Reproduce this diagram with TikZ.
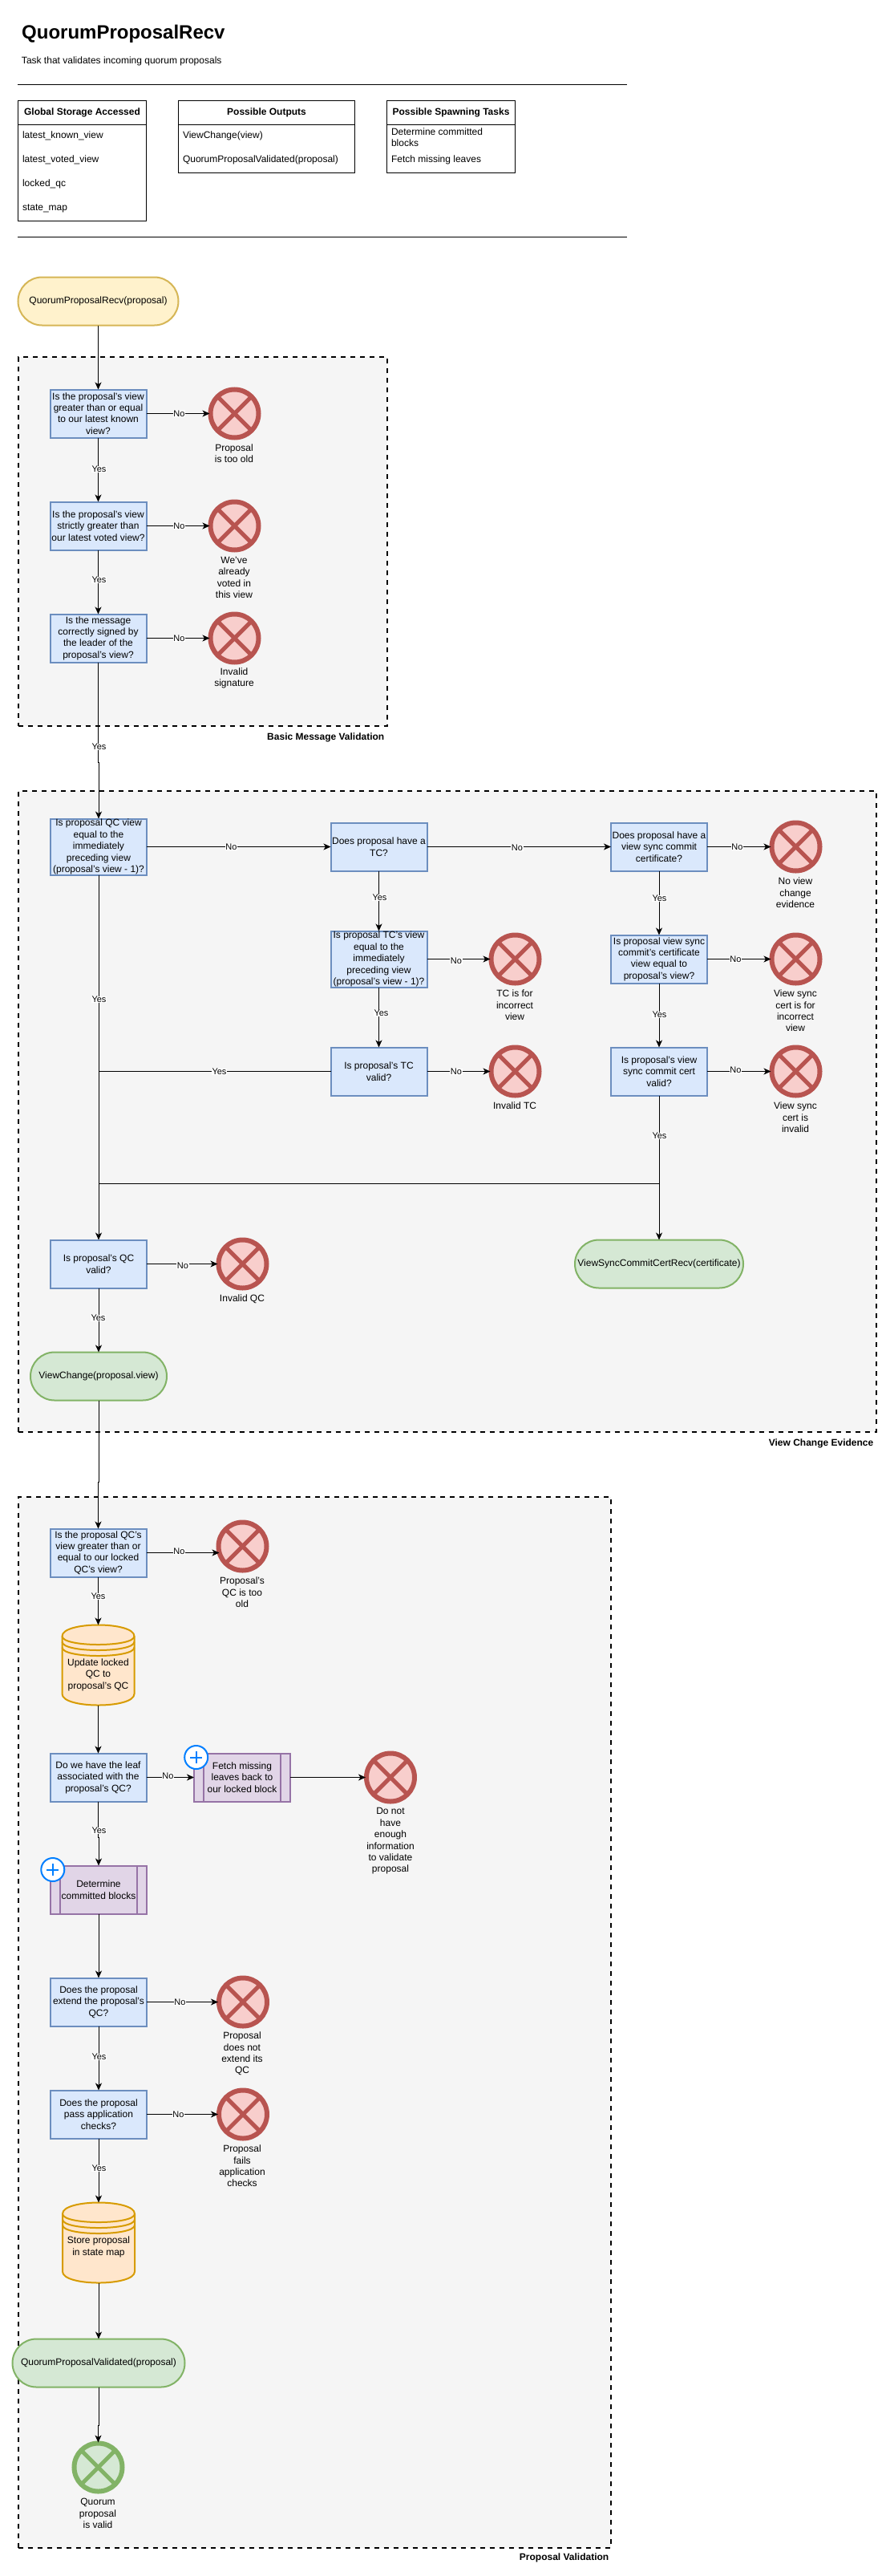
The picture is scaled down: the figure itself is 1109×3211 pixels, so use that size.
\documentclass[tikz,border=0pt]{standalone}
\usepackage{fontspec}
\setmainfont{Liberation Sans}
\usetikzlibrary{arrows.meta,calc}
\definecolor{blueF}{HTML}{DAE8FC}\definecolor{blueD}{HTML}{6C8EBF}
\definecolor{redF}{HTML}{F8CECC}\definecolor{redD}{HTML}{B85450}
\definecolor{yelF}{HTML}{FFF2CC}\definecolor{yelD}{HTML}{D6B656}
\definecolor{grnF}{HTML}{D5E8D4}\definecolor{grnD}{HTML}{82B366}
\definecolor{orgF}{HTML}{FFE6CC}\definecolor{orgD}{HTML}{D79B00}
\definecolor{purF}{HTML}{E1D5E7}\definecolor{purD}{HTML}{9673A6}
\definecolor{grpF}{HTML}{F5F5F5}\definecolor{plusD}{HTML}{007FFF}
\tikzset{
  txt/.style={font=\fontsize{12}{14.4}\selectfont,align=center,inner sep=0pt,outer sep=0pt},
  txtl/.style={font=\fontsize{12}{14.4}\selectfont,align=left,anchor=west,inner sep=0pt,outer sep=0pt,text height=8.6pt,text depth=2.6pt},
  grouplbl/.style={font=\fontsize{12}{14.4}\selectfont\bfseries,anchor=east,inner sep=0pt},
  groupbox/.style={draw=black,fill=grpF,line width=2pt,dash pattern=on 6pt off 6pt,anchor=north west,inner sep=0pt,outer sep=0pt},
  qbox/.style={txt,draw=blueD,fill=blueF,line width=2pt,minimum width=120pt,minimum height=60pt,outer sep=0pt},
  qboxt/.style={qbox,minimum height=70pt},
  tablehead/.style={draw=black,line width=1pt,anchor=north west,minimum height=30pt,font=\fontsize{12}{14.4}\selectfont\bfseries,inner sep=0pt,outer sep=0pt},
  tablebody/.style={draw=black,line width=1pt,anchor=north west,inner sep=0pt,outer sep=0pt},
  term/.style={txt,rounded corners=30pt,line width=2pt,minimum height=60pt},
  termY/.style={term,draw=yelD,fill=yelF},
  termG/.style={term,draw=grnD,fill=grnF},
  xcirc/.style={circle,line width=6pt,minimum size=60pt,inner sep=0pt,outer sep=1pt,
    path picture={\draw[line width=5pt,draw=#1]
      ([shift={(-40pt,-40pt)}]path picture bounding box.center) -- ([shift={(40pt,40pt)}]path picture bounding box.center)
      ([shift={(-40pt,40pt)}]path picture bounding box.center) -- ([shift={(40pt,-40pt)}]path picture bounding box.center);}},
  endR/.style={xcirc=redD,draw=redD,fill=redF},
  endG/.style={xcirc=grnD,draw=grnD,fill=grnF},
  proc/.style={txt,draw=purD,fill=purF,line width=2pt,minimum width=120pt,minimum height=60pt,
    path picture={\draw[line width=2pt,draw=purD]
      ([xshift=12pt]path picture bounding box.north west) -- ([xshift=12pt]path picture bounding box.south west)
      ([xshift=-12pt]path picture bounding box.north east) -- ([xshift=-12pt]path picture bounding box.south east);}},
  badge/.style={circle,draw=plusD,fill=white,line width=2pt,minimum size=29pt,inner sep=0pt,
    path picture={\draw[line width=2pt,draw=plusD]
      ([xshift=-7.5pt]path picture bounding box.center) -- ([xshift=7.5pt]path picture bounding box.center)
      ([yshift=-7.5pt]path picture bounding box.center) -- ([yshift=7.5pt]path picture bounding box.center);}},
  dsanchor/.style={rectangle,minimum width=90pt,minimum height=100pt,inner sep=0pt,outer sep=0pt},
  edgelbl/.style={font=\fontsize{11}{13}\selectfont,fill=white,inner sep=0.6pt},
  flow/.style={draw=black,line width=1pt,-{Stealth[length=9pt,width=8pt,inset=2.5pt]}},
  plainline/.style={draw=black,line width=1pt},
}
\newcommand{\dstore}[3]{%
  \begin{scope}[shift={(#1-45,#2-50)}]
    \path[fill=orgF,draw=orgD,line width=2pt] (0,14) .. controls (0,-4.67) and (90,-4.67) .. (90,14)
      -- (90,86) .. controls (90,104.67) and (0,104.67) .. (0,86) -- cycle;
    \draw[orgD,line width=2pt] (0,14) .. controls (0,28) and (90,28) .. (90,14)
      (0,21) .. controls (0,35) and (90,35) .. (90,21)
      (0,28) .. controls (0,42) and (90,42) .. (90,28);
  \end{scope}
  \node[dsanchor] (#3) at (#1,#2) {};
}
\begin{document}
\begin{tikzpicture}[x=1pt,y=-1pt]
\useasboundingbox[fill=white] (0,0) rectangle (1109,3211);

% header
\node[anchor=west,inner sep=0pt,font=\fontsize{24}{28}\selectfont\bfseries] (title) at (27,42) {QuorumProposalRecv};
\node[txtl] (subtitle) at (27,77) {Task that validates incoming quorum proposals};
\coordinate (r1a) at (22,105.5); \coordinate (r1b) at (782,105.5);
\coordinate (r2a) at (22,295.5); \coordinate (r2b) at (782,295.5);
\draw[plainline] (r1a) -- (r1b);
\draw[plainline] (r2a) -- (r2b);

% tables
\node[tablebody,minimum width=160pt,minimum height=150pt] (t1b) at (22.5,125.5) {};
\node[tablehead,minimum width=160pt] (t1h) at (22.5,125.5) {Global Storage Accessed};
\node[txtl] (t1r1) at (28,170) {latest\_known\_view};
\node[txtl] (t1r2) at (28,200) {latest\_voted\_view};
\node[txtl] (t1r3) at (28,230) {locked\_qc};
\node[txtl] (t1r4) at (28,260) {state\_map};
\node[tablebody,minimum width=220pt,minimum height=90pt] (t2b) at (222.5,125.5) {};
\node[tablehead,minimum width=220pt] (t2h) at (222.5,125.5) {Possible Outputs};
\node[txtl] (t2r1) at (228,170) {ViewChange(view)};
\node[txtl] (t2r2) at (228,200) {QuorumProposalValidated(proposal)};
\node[tablebody,minimum width=160pt,minimum height=90pt] (t3b) at (482.5,125.5) {};
\node[tablehead,minimum width=160pt] (t3h) at (482.5,125.5) {Possible Spawning Tasks};
\node[txtl,text height=,text depth=] (t3r1) at (488,171.5) {Determine committed\\blocks};
\node[txtl] (t3r2) at (488,200) {Fetch missing leaves};

% groups
\node[groupbox,minimum width=460pt,minimum height=460pt] (g1) at (22.5,445) {};
\node[grouplbl] (g1l) at (479.5,919) {Basic Message Validation};
\node[groupbox,minimum width=1070pt,minimum height=799pt] (g2) at (22.5,985.5) {};
\node[grouplbl] (g2l) at (1089.5,1799) {View Change Evidence};
\node[groupbox,minimum width=739pt,minimum height=1310pt] (g3) at (22.5,1865.5) {};
\node[grouplbl] (g3l) at (759.5,3188.5) {Proposal Validation};

% start
\node[termY,minimum width=200pt] (start) at (122.5,375.5) {QuorumProposalRecv(proposal)};

% group 1
\node[qbox] (b1) at (122.5,515.5) {Is the proposal's view\\greater than or equal\\to our latest known\\view?};
\node[endR] (e1) at (292.5,515.5) {};
\node[txt] (e1t) at (292,565.5) {Proposal\\is too old};
\node[qbox] (b2) at (122.5,655.5) {Is the proposal's view\\strictly greater than\\our latest voted view?};
\node[endR] (e2) at (292.5,655.5) {};
\node[txt] (e2t) at (292,720) {We've\\already\\voted in\\this view};
\node[qbox] (b3) at (122.5,795.5) {Is the message\\correctly signed by\\the leader of the\\proposal's view?};
\node[endR] (e3) at (292.5,795.5) {};
\node[txt] (e3t) at (292,845.5) {Invalid\\signature};

% group 2
\node[qboxt] (qc) at (123,1055.5) {Is proposal QC view\\equal to the\\immediately\\preceding view\\(proposal's view - 1)?};
\node[qbox] (tc1) at (472.5,1055.5) {Does proposal have a\\TC?};
\node[qboxt] (tc2) at (472.5,1195.5) {Is proposal TC's view\\equal to the\\immediately\\preceding view\\(proposal's view - 1)?};
\node[qbox] (tc3) at (472.5,1335.5) {Is proposal's TC\\valid?};
\node[endR] (etc2) at (642.5,1195.5) {};
\node[txt] (etc2t) at (642,1253) {TC is for\\incorrect\\view};
\node[endR] (etc3) at (642.5,1335.5) {};
\node[txt] (etc3t) at (642,1378.5) {Invalid TC};
\node[qbox] (vs1) at (822,1055.5) {Does proposal have a\\view sync commit\\certificate?};
\node[qbox] (vs2) at (822,1195.5) {Is proposal view sync\\commit's certificate\\view equal to\\proposal's view?};
\node[qbox] (vs3) at (822,1335.5) {Is proposal's view\\sync commit cert\\valid?};
\node[endR] (evs1) at (992.5,1055.5) {};
\node[txt] (evs1t) at (992,1113) {No view\\change\\evidence};
\node[endR] (evs2) at (992.5,1195.5) {};
\node[txt] (evs2t) at (992,1260) {View sync\\cert is for\\incorrect\\view};
\node[endR] (evs3) at (992.5,1335.5) {};
\node[txt] (evs3t) at (992,1393) {View sync\\cert is\\invalid};
\node[termG,minimum width=210pt] (vsc) at (822,1575.5) {ViewSyncCommitCertRecv(certificate)};
\node[qbox] (qv) at (123,1575.5) {Is proposal's QC\\valid?};
\node[endR] (eqv) at (302.5,1575.5) {};
\node[txt] (eqvt) at (302,1619) {Invalid QC};
\node[termG,minimum width=170pt] (vc) at (123,1715.5) {ViewChange(proposal.view)};

% group 3
\node[qbox] (q1) at (122.5,1935.5) {Is the proposal QC's\\view greater than or\\equal to our locked\\QC's view?};
\node[endR] (eq1) at (302.5,1927.5) {};
\node[txt] (eq1t) at (302,1985) {Proposal's\\QC is too\\old};
\dstore{122.5}{2075.5}{ds1}
\node[txt] (ds1t) at (122.5,2087.5) {Update locked\\QC to\\proposal's QC};
\node[qbox] (q2) at (122.5,2215.5) {Do we have the leaf\\associated with the\\proposal's QC?};
\node[proc] (pf) at (302,2215.5) {Fetch missing\\leaves back to\\our locked block};
\node[badge] (pfb) at (244.7,2190.5) {};
\node[endR] (epf) at (487,2215.5) {};
\node[txt] (epft) at (487,2295) {Do not\\have\\enough\\information\\to validate\\proposal};
\node[proc] (pd) at (123,2355.5) {Determine\\committed blocks};
\node[badge] (pdb) at (65.8,2330.5) {};
\node[qbox] (q3) at (123,2495.5) {Does the proposal\\extend the proposal's\\QC?};
\node[endR] (eq3) at (303,2495.5) {};
\node[txt] (eq3t) at (302,2560) {Proposal\\does not\\extend its\\QC};
\node[qbox] (q4) at (123,2635.5) {Does the proposal\\pass application\\checks?};
\node[endR] (eq4) at (303,2635.5) {};
\node[txt] (eq4t) at (302,2700) {Proposal\\fails\\application\\checks};
\dstore{123}{2795.5}{ds2}
\node[txt] (ds2t) at (123,2801) {Store proposal\\in state map};
\node[termG,minimum width=215pt] (qpv) at (123,2945.5) {QuorumProposalValidated(proposal)};
\node[endG] (eok) at (122.5,3075.5) {};
\node[txt] (eokt) at (122,3133) {Quorum\\proposal\\is valid};

% connectors
\coordinate (jn) at (123,1475.5);
\draw[flow] (start) -- (b1);
\draw[flow] (b1) -- (e1);
\draw[flow] (b1) -- (b2);
\draw[flow] (b2) -- (e2);
\draw[flow] (b2) -- (b3);
\draw[flow] (b3) -- (e3);
\draw[flow] (b3.south) -- ++(0,125) -| (qc.north);
\draw[flow] (qc) -- (tc1);
\draw[flow] (tc1) -- (vs1);
\draw[flow] (tc1) -- (tc2);
\draw[flow] (tc2) -- (etc2);
\draw[flow] (tc2) -- (tc3);
\draw[flow] (tc3) -- (etc3);
\draw[plainline] (tc3.west) -- (tc3.west -| qc.south);
\draw[flow] (vs1) -- (evs1);
\draw[flow] (vs1) -- (vs2);
\draw[flow] (vs2) -- (evs2);
\draw[flow] (vs2) -- (vs3);
\draw[flow] (vs3) -- (evs3);
\draw[flow] (vs3) -- (vsc);
\draw[plainline] (jn -| vs3.south) -- (jn);
\draw[flow] (qc) -- (qv);
\draw[flow] (qv) -- (eqv);
\draw[flow] (qv) -- (vc);
\draw[flow] (vc.south) -- ++(0,102) -| (q1.north);
\draw[flow] (q1.east) -- ([xshift=2pt]eq1.west |- q1.east);
\draw[flow] (q1) -- (ds1);
\draw[flow] (ds1) -- (q2);
\draw[flow] (q2) -- (pf);
\draw[flow] (pf) -- (epf);
\draw[flow] (q2.south) -- ++(0,45) -| (pd.north);
\draw[flow] (pd) -- (q3);
\draw[flow] (q3) -- (eq3);
\draw[flow] (q3) -- (q4);
\draw[flow] (q4) -- (eq4);
\draw[flow] (q4) -- (ds2);
\draw[flow] (ds2) -- (qpv);
\draw[flow] (qpv.south) -- ++(0,48) -| (eok.north);

% connector labels
\node[edgelbl] (l1) at (223.5,515.5) {No};
\node[edgelbl] (l2) at (123.5,585) {Yes};
\node[edgelbl] (l3) at (223.5,655.5) {No};
\node[edgelbl] (l4) at (123.5,723) {Yes};
\node[edgelbl] (l5) at (223.5,796) {No};
\node[edgelbl] (l6) at (123.5,931) {Yes};
\node[edgelbl] (l7) at (288.5,1056) {No};
\node[edgelbl] (l8) at (645,1057) {No};
\node[edgelbl] (l9) at (473.5,1119) {Yes};
\node[edgelbl] (l10) at (569,1198) {No};
\node[edgelbl] (l11) at (475.5,1263) {Yes};
\node[edgelbl] (l12) at (569,1336) {No};
\node[edgelbl] (l13) at (273.5,1336) {Yes};
\node[edgelbl] (l14) at (123.5,1246) {Yes};
\node[edgelbl] (l15) at (919.5,1056) {No};
\node[edgelbl] (l16) at (917.5,1196) {No};
\node[edgelbl] (l17) at (917.5,1334) {No};
\node[edgelbl] (l18) at (822.5,1120) {Yes};
\node[edgelbl] (l19) at (822.5,1265) {Yes};
\node[edgelbl] (l20) at (822.5,1416) {Yes};
\node[edgelbl] (l21) at (228,1578) {No};
\node[edgelbl] (l22) at (122.5,1643) {Yes};
\node[edgelbl] (l23) at (223.5,1934) {No};
\node[edgelbl] (l24) at (122.5,1990) {Yes};
\node[edgelbl] (l25) at (209.5,2214) {No};
\node[edgelbl] (l26) at (123.5,2282) {Yes};
\node[edgelbl] (l27) at (224.5,2496) {No};
\node[edgelbl] (l28) at (123.5,2564) {Yes};
\node[edgelbl] (l29) at (222.5,2636) {No};
\node[edgelbl] (l30) at (123.5,2703) {Yes};
\end{tikzpicture}
\end{document}
